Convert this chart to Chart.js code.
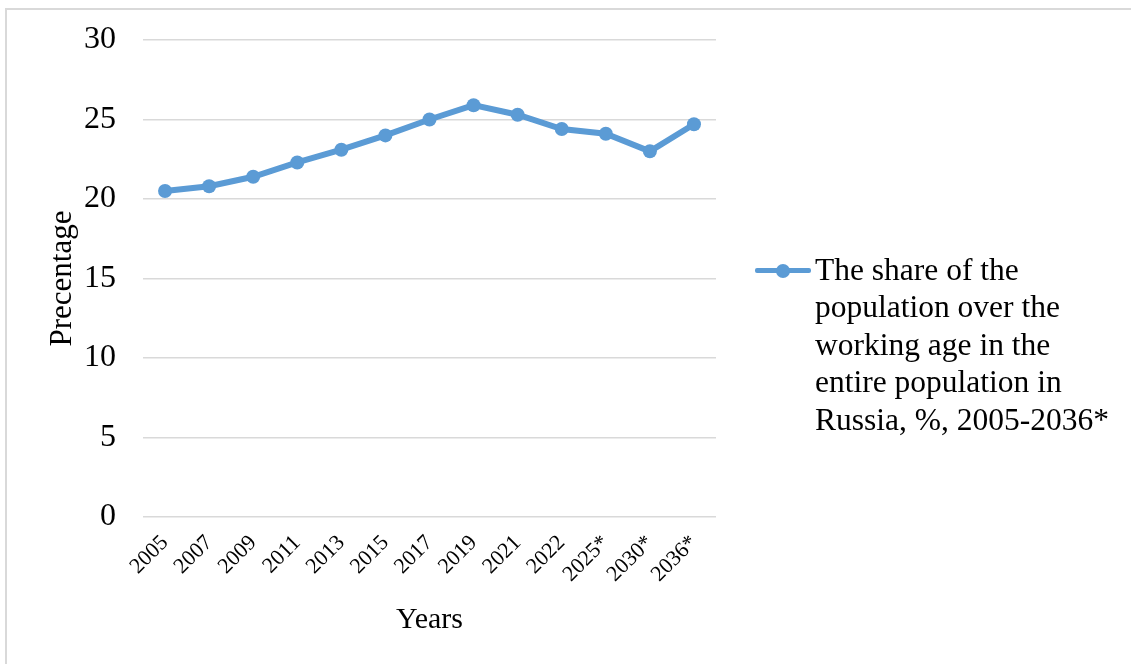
<!DOCTYPE html>
<html>
<head>
<meta charset="utf-8">
<script src="https://cdn.jsdelivr.net/npm/chart.js@4.4.1/dist/chart.umd.min.js"></script>
<style>
  html, body { margin: 0; padding: 0; background: #fff; }
  body { width: 1131px; height: 664px; position: relative; overflow: hidden; font-family: "Liberation Serif", "Times New Roman", serif; }
  #frame { position: absolute; left: 5px; top: 8px; width: 1140px; height: 720px; border: 2px solid #d9d9d9; box-sizing: border-box; }
  #wrap { position: absolute; left: 0; top: 0; width: 1131px; height: 664px; }
  #legend { position: absolute; left: 755px; top: 250px; display: flex; align-items: flex-start; }
  #legend .marker { position: relative; width: 56px; height: 40px; flex: none; }
  #legend .marker .ln { position: absolute; left: 0; right: 0; top: 18px; height: 5px; border-radius: 2px; }
  #legend .marker .dot { position: absolute; left: 21px; top: 13.5px; width: 14px; height: 14px; border-radius: 50%; }
  #legend .txt { width: 310px; margin-left: 4px; font-size: 31.5px; line-height: 37.4px; color: #000; margin-top: 1px; }
</style>
</head>
<body>
<div id="frame"></div>
<div id="wrap"><canvas id="c" width="1131" height="664"></canvas></div>
<div id="legend"></div>
<script>
// Share of population over working age in Russia, %
const years = ["2005", "2007", "2009", "2011", "2013", "2015", "2017", "2019", "2021", "2022", "2025*", "2030*", "2036*"];
const shareOverWorkingAge = [20.5, 20.8, 21.4, 22.3, 23.1, 24.0, 25.0, 25.9, 25.3, 24.4, 24.1, 23.0, 24.7];
const yTicks = [0, 5, 10, 15, 20, 25, 30];
const seriesLabel = "The share of the population over the working age in the entire population in Russia, %, 2005-2036*";

const blue = "#5b9bd5";
const serif = "'Liberation Serif', 'Times New Roman', serif";

const chart = new Chart(document.getElementById("c"), {
  type: "line",
  data: {
    labels: years,
    datasets: [{
      label: seriesLabel,
      data: shareOverWorkingAge,
      borderColor: blue,
      backgroundColor: blue,
      borderWidth: 6,
      pointRadius: 7,
      pointBorderWidth: 0,
      pointBackgroundColor: blue,
      tension: 0,
      fill: false
    }]
  },
  options: {
    responsive: false,
    animation: false,
    layout: { padding: { left: 0, top: 40, right: 415, bottom: 0 } },
    plugins: { legend: { display: false }, tooltip: { enabled: false } },
    scales: {
      x: {
        offset: true,
        grid: { display: false, drawTicks: false },
        border: { display: false },
        ticks: {
          color: "#000",
          font: { family: serif, size: 22 },
          minRotation: 45,
          maxRotation: 45,
          autoSkip: false,
          padding: 13
        },
        title: {
          display: true,
          text: "Years",
          color: "#000",
          font: { family: serif, size: 30 },
          padding: { top: 0, bottom: 26 }
        },
        afterFit: (s) => { s.height = 147; }
      },
      y: {
        min: 0,
        max: 30,
        afterBuildTicks: (s) => { s.ticks = yTicks.map(v => ({ value: v })); },
        grid: { color: "#d9d9d9", lineWidth: 1.5, drawTicks: false },
        border: { display: false },
        ticks: {
          color: "#000",
          font: { family: serif, size: 32 },
          padding: 27
        },
        title: {
          display: true,
          text: "Precentage",
          color: "#000",
          font: { family: serif, size: 31 },
          padding: { top: 44, bottom: 0 }
        },
        afterFit: (s) => {
          s.width = 143;
          // label gap is horizontal only; keep it out of the vertical box padding
          s.paddingTop = 0;
          s.paddingBottom = 0;
        }
      }
    }
  }
});

// Legend built from the dataset
const lg = document.getElementById("legend");
chart.data.datasets.forEach(ds => {
  const m = document.createElement("div");
  m.className = "marker";
  const ln = document.createElement("div"); ln.className = "ln"; ln.style.background = ds.borderColor;
  const dot = document.createElement("div"); dot.className = "dot"; dot.style.background = ds.pointBackgroundColor;
  m.appendChild(ln); m.appendChild(dot);
  const t = document.createElement("div");
  t.className = "txt";
  t.textContent = ds.label;
  lg.appendChild(m); lg.appendChild(t);
});
</script>
</body>
</html>
